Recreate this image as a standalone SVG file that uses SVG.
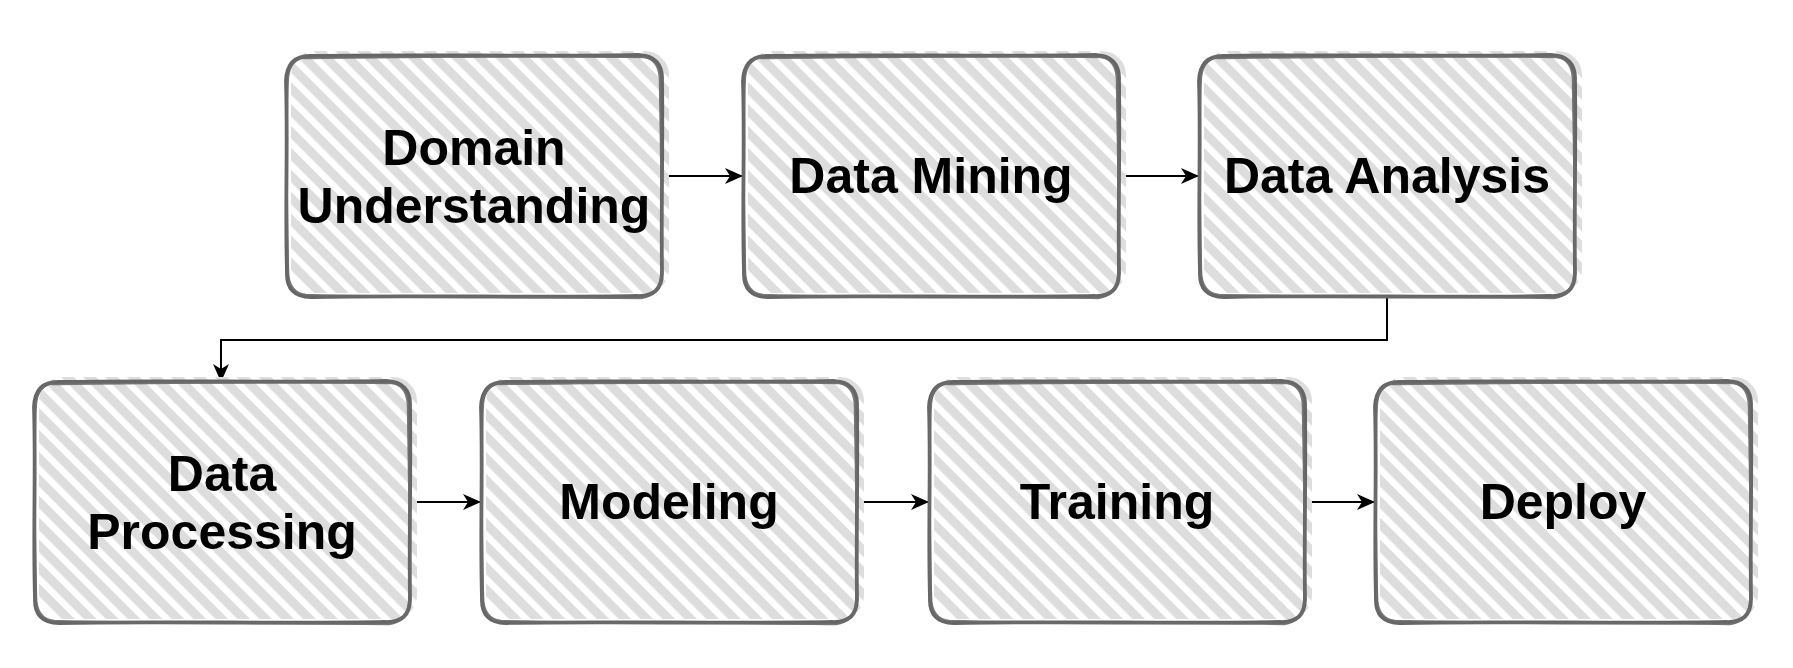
<svg xmlns="http://www.w3.org/2000/svg" xmlns:xlink="http://www.w3.org/1999/xlink" width="1793" height="668" viewBox="0 0 1793 668">
  <style>
    .label { font-family: "Liberation Sans", Arial, sans-serif; font-weight: bold; font-size: 50px; fill: #000; text-anchor: middle; }
    .edge { fill: none; stroke: #666; stroke-width: 3.8; stroke-linecap: round; stroke-linejoin: round; }
    .edge2 { fill: none; stroke: #6a6a6a; stroke-width: 2.4; stroke-linecap: round; stroke-linejoin: round; opacity: 0.9; }
    .hatch { fill: url(#hatch); }
    .conn { fill: none; stroke: #000; stroke-width: 2; }
  </style>
  <defs>
    <pattern id="hatch" patternUnits="userSpaceOnUse" width="15.5" height="15.5" patternTransform="rotate(45)">
      <rect x="0" y="0" width="15.5" height="9" fill="#dddddd"/>
    </pattern>
    <marker id="arrow" viewBox="0 0 18 16" markerWidth="18" markerHeight="16" refX="17" refY="8" orient="auto" markerUnits="userSpaceOnUse">
      <path d="M0,0 L18,8 L0,16 L5,8 Z" fill="#000"/>
    </marker>
    <g id="box">
      <rect class="hatch" x="5" y="-4" width="378" height="242" rx="24" ry="24"/>
      <path class="edge" d="M24,1 C120,-1 260,2 352,0 Q377,1 376,25 C377,90 375,160 376,218 Q376,242 351,241 C260,243 120,240 25,242 Q0,242 1,217 C-1,150 2,90 0,26 Q1,1 24,1 Z"/>
      <path class="edge2" d="M18,3 C110,2 270,0 358,2 Q375,4 374,30 C375,100 377,170 375,222 Q373,240 355,243 C250,241 130,243 20,240 Q2,238 2,215 C1,160 -1,80 2,22 Q4,4 20,1"/>
    </g>
  </defs>
  <rect x="0" y="0" width="1793" height="668" fill="#fff"/>

  <g id="connectors">
    <line class="conn" x1="662" y1="176" x2="742" y2="176" marker-end="url(#arrow)"/>
    <line class="conn" x1="1119" y1="176" x2="1198" y2="176" marker-end="url(#arrow)"/>
    <path class="conn" d="M1387,297 V340 H221 V381" marker-end="url(#arrow)"/>
    <line class="conn" x1="409" y1="502" x2="480" y2="502" marker-end="url(#arrow)"/>
    <line class="conn" x1="857" y1="502" x2="928" y2="502" marker-end="url(#arrow)"/>
    <line class="conn" x1="1305" y1="502" x2="1374" y2="502" marker-end="url(#arrow)"/>
  </g>

  <g id="domain-understanding" transform="translate(286,55)">
    <use href="#box" xlink:href="#box"/>
    <text class="label" x="188" y="110">Domain</text>
    <text class="label" x="188" y="168">Understanding</text>
  </g>
  <g id="data-mining" transform="translate(743,55)">
    <use href="#box" xlink:href="#box"/>
    <text class="label" x="188" y="138">Data Mining</text>
  </g>
  <g id="data-analysis" transform="translate(1199,55)">
    <use href="#box" xlink:href="#box"/>
    <text class="label" x="188" y="138">Data Analysis</text>
  </g>
  <g id="data-processing" transform="translate(34,381)">
    <use href="#box" xlink:href="#box"/>
    <text class="label" x="188" y="110">Data</text>
    <text class="label" x="188" y="168">Processing</text>
  </g>
  <g id="modeling" transform="translate(481,381)">
    <use href="#box" xlink:href="#box"/>
    <text class="label" x="188" y="138">Modeling</text>
  </g>
  <g id="training" transform="translate(929,381)">
    <use href="#box" xlink:href="#box"/>
    <text class="label" x="188" y="138">Training</text>
  </g>
  <g id="deploy" transform="translate(1375,381)">
    <use href="#box" xlink:href="#box"/>
    <text class="label" x="188" y="138">Deploy</text>
  </g>
</svg>
